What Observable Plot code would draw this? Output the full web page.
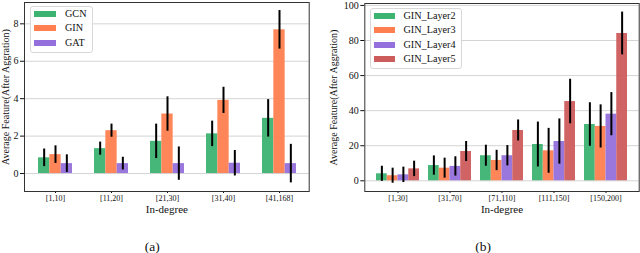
<!DOCTYPE html>
<html><head><meta charset="utf-8">
<script src="https://cdn.jsdelivr.net/npm/d3@7"></script>
<script src="https://cdn.jsdelivr.net/npm/@observablehq/plot@0.6"></script>
<style>
body{margin:0;background:#fff;font-family:"Liberation Serif","Times New Roman","DejaVu Serif",serif;}
#wrap{display:flex;width:640px;height:253px;overflow:hidden;}
.panel{position:relative;width:320px;height:253px;}
.panel svg{display:block;font-family:"Liberation Serif","Times New Roman","DejaVu Serif",serif !important;}
.panel svg text{font-family:"Liberation Serif","Times New Roman","DejaVu Serif",serif !important;}
.legend{position:absolute;border:1px solid #d8d8d8;border-radius:3px;background:rgba(255,255,255,0.85);box-sizing:border-box;}
.lrow{position:absolute;left:0;white-space:nowrap;font-family:"Liberation Serif","Times New Roman","DejaVu Serif",serif;font-size:10.2px;line-height:12px;color:#111;}
.sw{position:absolute;height:6px;}
</style>
</head><body>
<div id="wrap"><div class="panel" id="pa"></div><div class="panel" id="pb"></div></div>
<script>
// ---- Panel (a) data ----
const groupsA = ["[1,10]","[11,20]","[21,30]","[31,40]","[41,168]"];
const seriesA = ["GCN","GIN","GAT"];
const gcnMean = [0.84,1.33,1.72,2.12,2.95];
const gcnErr  = [0.47,0.35,0.92,0.68,1.00];
const ginMean = [1.01,2.29,3.18,3.91,7.68];
const ginErr  = [0.47,0.35,0.92,0.70,1.03];
const gatMean = [0.53,0.53,0.53,0.55,0.53];
const gatErr  = [0.47,0.34,0.89,0.68,1.03];
const ticksA = [0,2,4,6,8];

// ---- Panel (b) data ----
const groupsB = ["[1,30]","[31,70]","[71,110]","[111,150]","[150,200]"];
const seriesB = ["GIN_Layer2","GIN_Layer3","GIN_Layer4","GIN_Layer5"];
const layer2Mean = [4.0,8.7,14.3,20.7,32.1];
const layer2Err  = [4.3,5.5,6.0,12.8,12.4];
const layer3Mean = [2.9,7.2,11.6,17.1,31.0];
const layer3Err  = [4.3,5.7,5.8,12.8,12.3];
const layer4Mean = [3.4,8.2,14.3,22.4,38.0];
const layer4Err  = [4.4,5.5,5.8,12.9,12.3];
const layer5Mean = [6.8,16.7,28.7,45.2,84.0];
const layer5Err  = [4.4,5.7,6.0,12.7,12.2];
const ticksB = [0,20,40,60,80,100];

const yLabel = "Average Feature(After Aggration)";
const xLabel = "In-degree";
const colors = ["#3cb371","#ff7f50","#9370db","#cd5c5c"];
const FONT = "'Liberation Serif', 'Times New Roman', 'DejaVu Serif', serif";

function panel(el, cfg) {
  const {groups, series, means, errs, domain, ticks, caption, m, paddingInner, paddingOuter, yLabelDx, capDx, legend} = cfg;
  const n = series.length;
  const rows = [];
  series.forEach((s,i)=>groups.forEach((g,j)=>rows.push({group:g, series:s, i, value:means[i][j], err:errs[i][j]})));
  const common = {width:320, height:253, marginLeft:m[0], marginRight:m[1], marginTop:m[2], marginBottom:m[3],
    style:{fontFamily:FONT, background:"white", color:"#111"}};
  const xOpts = {domain:groups, paddingInner, paddingOuter};
  const yOpts = {domain};
  const probe = Plot.plot({...common, x:xOpts, y:yOpts, marks:[Plot.barY(rows,{x:"group", y:"value"})]});
  const bw = probe.scale("x").bandwidth;
  const w = bw / n;
  const marks = [Plot.gridY(ticks, {stroke:"#d4d4d4", strokeOpacity:1, strokeWidth:1})];
  series.forEach((s,i)=>{
    const d = rows.filter(r=>r.i===i);
    marks.push(Plot.barY(d, {x:"group", y:"value", fill:colors[i], fillOpacity:0.95, insetLeft:i*w, insetRight:(n-1-i)*w}));
  });
  series.forEach((s,i)=>{
    const d = rows.filter(r=>r.i===i);
    marks.push(Plot.ruleX(d, {x:"group", y1:r=>r.value-r.err, y2:r=>r.value+r.err, dx:(i-(n-1)/2)*w, stroke:"black", strokeWidth:2}));
  });
  marks.push(
    Plot.axisY({ticks, tickSize:4, tickPadding:2, fontSize:10, label:null}),
    Plot.axisX({tickSize:2, tickPadding:2, fontSize:8, label:null}),
    Plot.text([yLabel], {text:d=>d, frameAnchor:"left", rotate:-90, dx:yLabelDx, textAnchor:"middle", lineAnchor:"middle", fontSize:10, fill:"#111"}),
    Plot.text([xLabel], {text:d=>d, frameAnchor:"bottom", dy:18, textAnchor:"middle", lineAnchor:"middle", fontSize:11, fill:"#111"}),
    Plot.text([caption], {text:d=>d, frameAnchor:"bottom", dy:55, dx:capDx, textAnchor:"middle", lineAnchor:"middle", fontSize:13.5, fill:"#111"}),
    Plot.frame({stroke:"#333", strokeWidth:1})
  );
  const chart = Plot.plot({...common, x:xOpts, y:yOpts, marks});
  el.appendChild(chart);
  // legend
  const lg = document.createElement("div");
  lg.className = "legend";
  Object.assign(lg.style, {left:legend.left+"px", top:legend.top+"px", width:legend.width+"px", height:legend.height+"px"});
  series.forEach((s,i)=>{
    const cy = legend.first + i*legend.step;
    const sw = document.createElement("div");
    sw.className = "sw";
    Object.assign(sw.style, {left:legend.swx+"px", width:legend.sww+"px", top:(cy-3)+"px", background:colors[i]});
    lg.appendChild(sw);
    const t = document.createElement("div");
    t.className = "lrow";
    t.textContent = s;
    Object.assign(t.style, {left:legend.tx+"px", top:(cy-6)+"px"});
    lg.appendChild(t);
  });
  el.appendChild(lg);
}

panel(document.getElementById("pa"), {
  groups:groupsA, series:seriesA, means:[gcnMean,ginMean,gatMean], errs:[gcnErr,ginErr,gatErr],
  domain:[-0.96,9.14], ticks:ticksA, caption:"(a)", m:[24,11.3,2,62],
  paddingInner:0.4, paddingOuter:0.22, yLabelDx:-19, capDx:-14.6,
  legend:{left:30, top:6, width:63, height:47, first:7, step:14.3, swx:2.5, sww:22.7, tx:34}
});
panel(document.getElementById("pb"), {
  groups:groupsB, series:seriesB, means:[layer2Mean,layer3Mean,layer4Mean,layer5Mean], errs:[layer2Err,layer3Err,layer4Err,layer5Err],
  domain:[-6.1,101.1], ticks:ticksB, caption:"(b)", m:[44.3,1.3,3,62],
  paddingInner:0.18, paddingOuter:0.22, yLabelDx:-31, capDx:-18.8,
  legend:{left:50, top:7.5, width:92, height:61, first:7.3, step:14.5, swx:2.5, sww:21.7, tx:32.5}
});
</script>
</body></html>
